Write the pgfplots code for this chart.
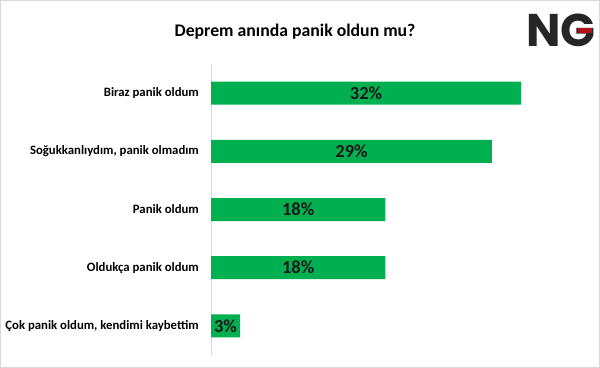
\documentclass[border=0pt]{standalone}
\usepackage{pgfplots}
\pgfplotsset{compat=1.18}
\usepackage{fontspec}
\setmainfont{Carlito}
\newfontfamily\logofont{Poppins}
\definecolor{barg}{HTML}{00B050}
\definecolor{logored}{HTML}{B3121B}
\begin{document}
\begin{tikzpicture}
\path[use as bounding box] (0,0) rectangle (600bp,368bp);
\draw[black!15] (0.5bp,0.5bp) rectangle (599.5bp,367.5bp);
\node[font=\fontsize{17.8}{19}\selectfont\bfseries] at (295bp,336bp) {Deprem anında panik oldun mu?};
\node[font=\logofont\fontsize{46}{46}\selectfont\bfseries, text=black!85, inner sep=0pt, anchor=base] at (561bp,321bp) {NG};
\fill[logored] (578bp,334.5bp) rectangle (592bp,340bp);
\begin{axis}[
  at={(211bp,13bp)}, anchor=south west, scale only axis,
  width=348.8bp, height=291bp,
  xmin=0, xmax=36, ymin=-0.5, ymax=4.5,
  axis line style={draw=none}, tick style={draw=none},
  xtick=\empty,
  ytick={0,1,2,3,4},
  yticklabels={{Çok panik oldum, kendimi kaybettim},{Oldukça panik oldum},{Panik oldum},{Soğukkanlıydım, panik olmadım},{Biraz panik oldum}},
  yticklabel style={font=\fontsize{12.8}{14}\selectfont\bfseries, inner sep=0pt, xshift=-12bp},
  clip=false,
]
\draw[black!15] (axis cs:0,-0.5) -- (axis cs:0,4.5);
\addplot[xbar, bar width=23bp, fill=barg, draw=none] coordinates {(3,0) (18,1) (18,2) (29,3) (32,4)};
\addplot[draw=none, mark=none, nodes near coords, point meta=explicit symbolic,
  every node near coord/.append style={anchor=center, font=\fontsize{18.5}{19}\selectfont\bfseries, text=black!90}]
  coordinates {(1.5,0)[3\%] (9,1)[18\%] (9,2)[18\%] (14.5,3)[29\%] (16,4)[32\%]};
\end{axis}
\end{tikzpicture}
\end{document}
